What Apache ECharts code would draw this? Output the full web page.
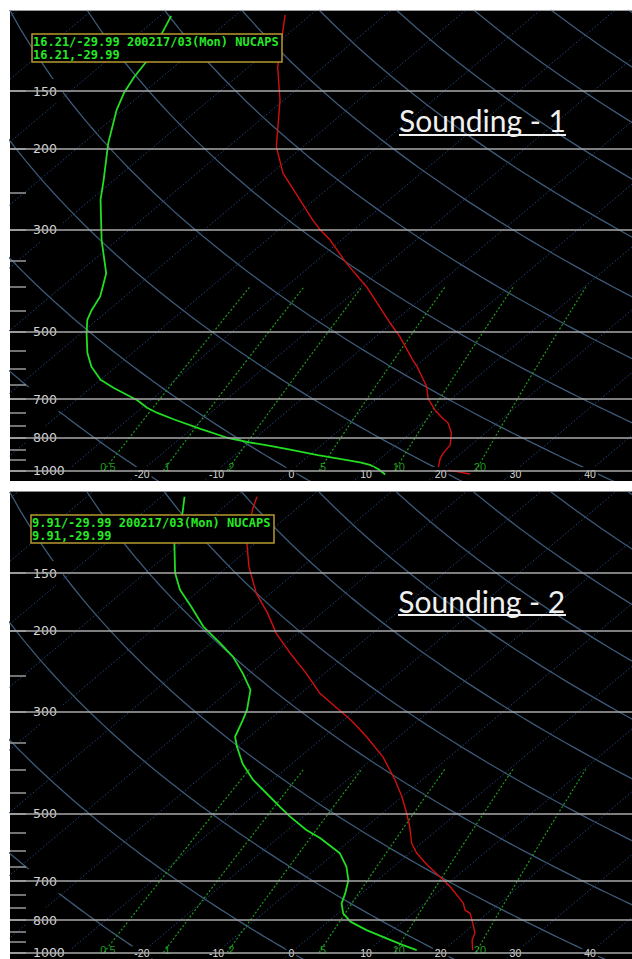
<!DOCTYPE html>
<html>
<head>
<meta charset="utf-8">
<script src="https://cdn.jsdelivr.net/npm/echarts@6/dist/echarts.min.js"></script>
<style>
  html, body { margin: 0; padding: 0; background: #fff; }
  #chart { width: 632px; height: 959px; }
</style>
</head>
<body>
<div id="chart"></div>
<script>
// sounding 1: pressure (hPa) and temperature / dewpoint (°C), surface upwards
const s1TempP = [1018, 1002, 995, 985, 941, 918, 880, 830, 790, 771, 739, 697, 658, 595, 576, 512, 479, 399, 355, 316, 300, 286, 226, 198, 157, 133, 102.5]
const s1TempT = [24.5, 21.7, 20.2, 19.2, 18.0, 17.6, 17.2, 15.5, 13.5, 12.0, 9.6, 6.8, 4.8, 0.3, -1.3, -6.8, -10.2, -19.2, -25.6, -31.5, -34.5, -37.0, -48.5, -53.6, -60.5, -66.1, -73.4]
const s1DewP = [1020, 993, 974, 961, 945, 926, 899, 882, 870, 849, 812, 775, 750, 731, 704, 662, 635, 595, 556, 503, 471, 448, 419, 373, 316, 258, 234, 195, 165, 151, 140, 130, 118, 103]
const s1DewT = [13.2, 11.4, 9.8, 8.1, 4.9, 1.1, -3.9, -7.2, -9.9, -13.8, -18.8, -23.8, -27.1, -29.3, -31.8, -36.9, -40.0, -43.3, -46.0, -49.3, -51.3, -52.3, -53.3, -56.2, -62.1, -68.7, -71.4, -76.6, -80.8, -82.6, -83.7, -84.5, -86.1, -88.5]

// sounding 2
const s2TempP = [988, 939, 908, 872, 822, 809, 782, 757, 720, 696, 645, 609, 579, 533, 499, 459, 422, 376, 340, 313, 274, 248, 224, 203, 183, 166, 145, 129, 109, 102.4]
const s2TempT = [23.9, 22.2, 21.5, 20.0, 17.7, 16.5, 15.2, 13.5, 10.8, 8.8, 4.2, 1.0, -1.3, -4.2, -6.7, -10.0, -13.6, -18.9, -24.3, -29.0, -37.4, -42.4, -47.8, -52.8, -57.3, -61.9, -67.2, -71.2, -75.8, -77.2]
const s2DewP = [988, 964, 932, 894, 857, 822, 782, 744, 696, 651, 609, 564, 542, 507, 483, 451, 422, 389, 357, 340, 313, 297, 269, 248, 228, 213, 196, 177, 163, 150, 129, 111, 102.4]
const s2DewT = [16.4, 13.8, 10.5, 6.5, 3.0, 0.7, -1.1, -2.2, -3.9, -6.3, -9.3, -14.4, -17.5, -21.8, -24.7, -28.7, -32.6, -36.6, -40.1, -41.9, -43.5, -44.6, -47.3, -50.9, -54.9, -58.8, -63.7, -68.6, -72.7, -76.0, -80.9, -84.6, -86.9]

// axes and background lines
const pressureLines = [150, 200, 300, 500, 700, 850, 1000]
const pressureLabels = ['150', '200', '300', '500', '700', '800', '1000']
const pressureTicks = [150, 200, 250, 300, 350, 400, 450, 500, 550, 600, 650, 700, 750, 800, 850, 900, 950, 1000]
const tempLabels = [-20, -10, 0, 10, 20, 30, 40]
const isotherms = [-110, -100, -90, -80, -70, -60, -50, -40, -30, -20, -10, 0, 10, 20, 30, 40]
const dryAdiabats = [-20, 0, 20, 40, 60, 80, 100, 120, 140, 160, 180, 200]
const mixingRatios = [0.5, 1, 2, 5, 10, 20]

const SKEW = 31.86 // °C of shift per ln(p)

const skewX = (t, p) => t + SKEW * Math.log(1000 / p)
const profile = (ps, ts) => ps.map((p, i) => [skewX(ts[i], p), p])

function adiabat(theta) {
  const pts = []
  for (let p = 1060; p >= 100; p -= 10) {
    const t = (theta + 273.15) * Math.pow(p / 1000, 0.286) - 273.15
    pts.push([skewX(t, p), p])
  }
  return pts
}

function mixingDew(w, p) {
  const l = Math.log(w * p / (622 + w) / 6.112)
  return 243.5 * l / (17.67 - l)
}

function mixingLine(w) {
  const pts = []
  for (let p = 1000; p >= 400; p -= 25) pts.push([skewX(mixingDew(w, p), p), p])
  return pts
}

const panels = [
  { top: 10, height: 471, pMax: 1054, labelMargin: 1, temp: profile(s1TempP, s1TempT), dew: profile(s1DewP, s1DewT) },
  { top: 492, height: 467, pMax: 1033, labelMargin: 0, temp: profile(s2TempP, s2TempT), dew: profile(s2DewP, s2DewT) },
]

const grid = [], xAxis = [], yAxis = [], series = []

panels.forEach((pn, i) => {
  grid.push({ left: 10, top: pn.top, width: 622, height: pn.height, show: true, backgroundColor: '#000', borderWidth: 0, outerBoundsMode: 'none' })
  xAxis.push({
    type: 'value', gridIndex: i, min: -37.66, max: 45.61, z: 4,
    axisLine: { show: false, onZero: false }, axisTick: { show: false }, splitLine: { show: false },
    axisLabel: {
      inside: true, margin: pn.labelMargin, customValues: tempLabels,
      color: '#d8d8d8', fontFamily: 'Liberation Sans', fontSize: 10.5, lineHeight: 11,
      backgroundColor: '#000', padding: [1, 2],
    },
  })
  yAxis.push({
    type: 'log', logBase: 10, gridIndex: i, min: 100, max: pn.pMax, inverse: true, z: 4,
    axisLine: { show: false, onZero: false }, splitLine: { show: false }, minorTick: { show: false },
    axisTick: { show: true, inside: true, length: 16, customValues: pressureTicks, lineStyle: { color: '#9a9a9a', width: 1.5 } },
    axisLabel: {
      inside: true, margin: 16, customValues: pressureLines,
      formatter: v => {
        let best = 0
        pressureLines.forEach((p, k) => { if (Math.abs(p - v) < Math.abs(pressureLines[best] - v)) best = k })
        return pressureLabels[best]
      },
      color: '#d4d4d4', fontFamily: 'DejaVu Sans', fontSize: 12.5, lineHeight: 14,
      backgroundColor: '#000', padding: [5, 6, 5, 7],
    },
  })

  const base = { type: 'line', xAxisIndex: i, yAxisIndex: i, symbol: 'none', silent: true, animation: false }

  isotherms.forEach((t, k) => {
    const s = {
      ...base, z: 1,
      data: [[skewX(t, 1060), 1060], [skewX(t, 100), 100]],
      lineStyle: { color: '#22447c', width: 1, type: [1.5, 2] },
    }
    if (k === 0) {
      s.markLine = {
        silent: true, symbol: ['none', 'none'], animation: false,
        label: { show: false },
        lineStyle: { color: '#a8a8a8', width: 1.5, type: 'solid' },
        data: pressureLines.map(p => ({ yAxis: p })),
      }
    }
    series.push(s)
  })

  dryAdiabats.forEach(th => series.push({
    ...base, z: 1,
    data: adiabat(th),
    lineStyle: { color: '#3d5a78', width: 1.3 },
  }))

  mixingRatios.forEach(w => series.push({
    ...base, z: 1,
    data: mixingLine(w),
    lineStyle: { color: '#1e9a1e', width: 1.2, type: [2, 2] },
  }))

  series.push({
    type: 'scatter', xAxisIndex: i, yAxisIndex: i, z: 3, silent: true, animation: false,
    symbolSize: 1, itemStyle: { color: 'rgba(0,0,0,0)' },
    data: mixingRatios.map(w => [skewX(mixingDew(w, 1000), 1000), 1000]),
    label: {
      show: true, position: 'inside', offset: [4, -3],
      formatter: p => String(mixingRatios[p.dataIndex]),
      color: '#26c426', fontFamily: 'Liberation Sans', fontSize: 11,
    },
  })

  series.push({ ...base, z: 3, data: pn.temp, lineStyle: { color: '#d40f0f', width: 1.4 } })
  series.push({ ...base, z: 3, data: pn.dew, lineStyle: { color: '#22dd22', width: 1.8 } })
})

const infoStyle = {
  fontFamily: 'DejaVu Sans Mono', fontSize: 12, fontWeight: 'bold', lineHeight: 13, color: '#26e826',
}

const chart = echarts.init(document.getElementById('chart'), null, { renderer: 'svg' })
chart.setOption({
  animation: false,
  backgroundColor: '#fff',
  title: [
    { text: '16.21/-29.99 200217/03(Mon) NUCAPS\n16.21,-29.99', left: 32, top: 34, padding: [1, 4, 1, 1], backgroundColor: '#000', borderColor: '#b59a2e', borderWidth: 1.5, textStyle: infoStyle },
    { text: '9.91/-29.99 200217/03(Mon) NUCAPS\n9.91,-29.99', left: 31, top: 515, padding: [1, 4, 1, 1], backgroundColor: '#000', borderColor: '#b59a2e', borderWidth: 1.5, textStyle: infoStyle },
  ],
  grid, xAxis, yAxis, series,
  graphic: [
    { type: 'rect', z: 20, silent: true, shape: { x: 0, y: 481, width: 632, height: 10 }, style: { fill: '#fff' } },
    { type: 'line', z: 21, silent: true, shape: { x1: 10, y1: 10.5, x2: 632, y2: 10.5 }, style: { stroke: '#9a9a9a', lineWidth: 1 } },
    { type: 'line', z: 21, silent: true, shape: { x1: 10, y1: 491.5, x2: 632, y2: 491.5 }, style: { stroke: '#8a8a8a', lineWidth: 1 } },
    { type: 'text', z: 10, silent: true, x: 482.5, y: 119.5, style: { text: 'Sounding - 1', fill: '#f0f0f0', fontFamily: 'Lato', fontSize: 30, align: 'center', verticalAlign: 'middle' } },
    { type: 'line', z: 10, silent: true, shape: { x1: 399, y1: 135, x2: 566, y2: 135 }, style: { stroke: '#f0f0f0', lineWidth: 2 } },
    { type: 'text', z: 10, silent: true, x: 481.7, y: 600.5, style: { text: 'Sounding - 2', fill: '#f0f0f0', fontFamily: 'Lato', fontSize: 30, align: 'center', verticalAlign: 'middle' } },
    { type: 'line', z: 10, silent: true, shape: { x1: 398, y1: 615, x2: 566, y2: 615 }, style: { stroke: '#f0f0f0', lineWidth: 2 } },
  ],
})
</script>
</body>
</html>
